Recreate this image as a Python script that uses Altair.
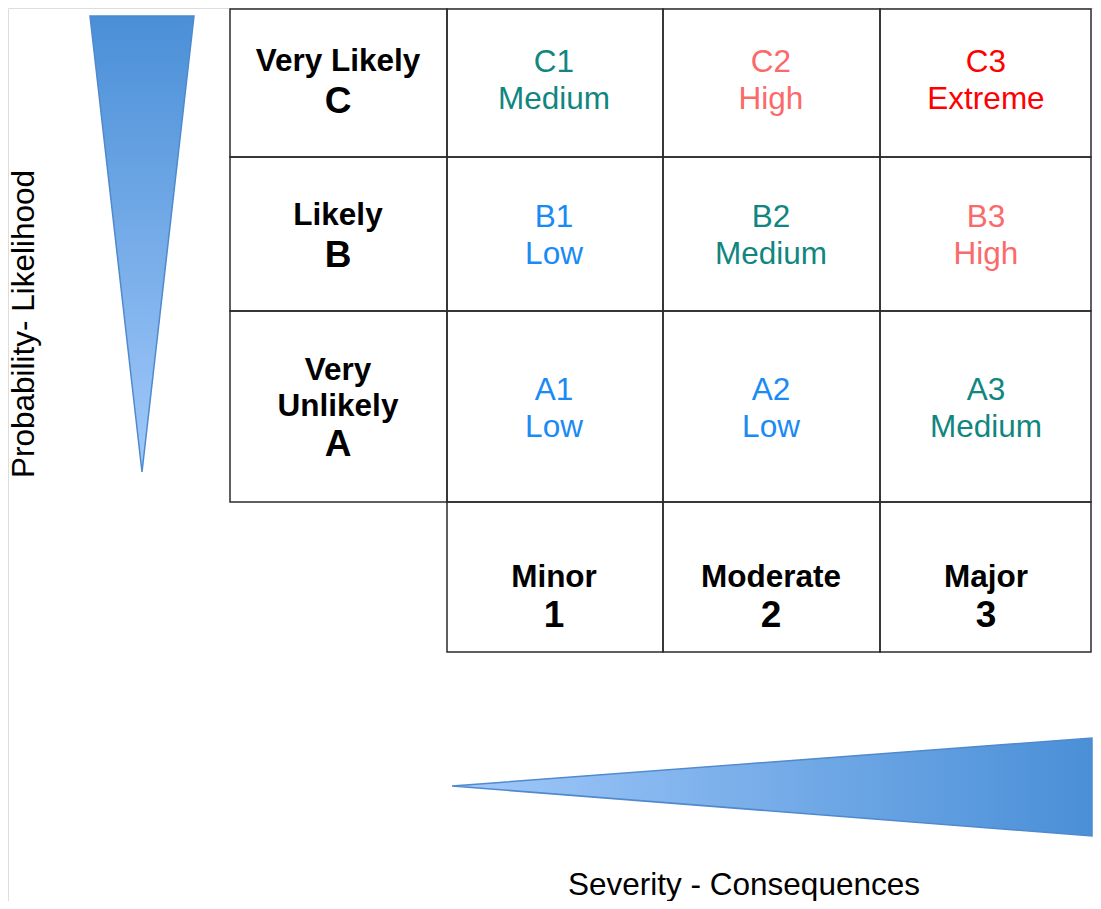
import altair as alt
import pandas as pd

# ---------------- data ----------------
row_keys = ["C", "B", "A"]
row_words = [["Very Likely"], ["Likely"], ["Very", "Unlikely"]]
col_keys = ["1", "2", "3"]
col_words = ["Minor", "Moderate", "Major"]
codes = [["C1", "C2", "C3"], ["B1", "B2", "B3"], ["A1", "A2", "A3"]]
levels = [["Medium", "High", "Extreme"], ["Low", "Medium", "High"], ["Low", "Low", "Medium"]]
level_names = ["Low", "Medium", "High", "Extreme"]
level_colors = ["#1a8af5", "#108680", "#fb6a6a", "#ff0000"]
y_title = "Probability- Likelihood"
x_title = "Severity - Consequences"

# ---------------- layout (pixel units of the picture) ----------------
COL_EDGES = [230, 447, 663, 880, 1091]
ROW_EDGES = [9, 157, 311, 502, 652]
COL_CENTERS = [338, 554, 771, 986]
CELL_LINE_Y = [[61, 98], [216, 253], [389, 426]]
LABEL_LINE_Y = [[60, 100], [214, 254], [369, 405, 443]]
BOTTOM_LINE_Y = [576, 614]
WORD_FS = 31.5
KEY_FS = 37
FONT = "Liberation Sans"
TEXT_DY = 2

color_of = dict(zip(level_names, level_colors))

# grid cells
cells = []
for r in range(3):
    for c in range(4):
        cells.append(dict(x=COL_EDGES[c], x2=COL_EDGES[c + 1], y=ROW_EDGES[r], y2=ROW_EDGES[r + 1]))
for c in range(1, 4):
    cells.append(dict(x=COL_EDGES[c], x2=COL_EDGES[c + 1], y=ROW_EDGES[3], y2=ROW_EDGES[4]))
cells = pd.DataFrame(cells)

# coloured cell text
ctext = []
for r in range(3):
    for c in range(3):
        col = color_of[levels[r][c]]
        for line, t in zip(CELL_LINE_Y[r], [codes[r][c], levels[r][c]]):
            ctext.append(dict(x=COL_CENTERS[c + 1], y=line, t=t, color=col))
ctext = pd.DataFrame(ctext)

# bold labels
btext = []
for r in range(3):
    lines = row_words[r] + [row_keys[r]]
    for i, (ly, t) in enumerate(zip(LABEL_LINE_Y[r], lines)):
        btext.append(dict(x=COL_CENTERS[0], y=ly, t=t, fs=KEY_FS if i == len(lines) - 1 else WORD_FS))
for c in range(3):
    for i, (ly, t) in enumerate(zip(BOTTOM_LINE_Y, [col_words[c], col_keys[c]])):
        btext.append(dict(x=COL_CENTERS[c + 1], y=ly, t=t, fs=KEY_FS if i == 1 else WORD_FS))
btext = pd.DataFrame(btext)

vtri = pd.DataFrame(dict(y=[16, 472], x=[90, 142], x2=[194, 142]))
htri = pd.DataFrame(dict(x=[452, 1092], y=[786, 738], y2=[786, 836]))

XS = alt.Scale(domain=[8, 1093], nice=False, zero=False)
YS = alt.Scale(domain=[8, 901], nice=False, zero=False, reverse=True)

def X(f):
    return alt.X(f, type="quantitative", scale=XS, axis=None)

def Y(f):
    return alt.Y(f, type="quantitative", scale=YS, axis=None)

grid = alt.Chart(cells).mark_rect(fill="transparent", stroke="#2b2b2b", strokeWidth=1.5).encode(
    x=X("x"), x2="x2", y=Y("y"), y2="y2"
)

vgrad = alt.Gradient(
    gradient="linear",
    stops=[alt.GradientStop(color="#4a8fd7", offset=0), alt.GradientStop(color="#a2c9fa", offset=1)],
    x1=0, x2=0, y1=0, y2=1,
)
hgrad = alt.Gradient(
    gradient="linear",
    stops=[alt.GradientStop(color="#a2c9fa", offset=0), alt.GradientStop(color="#4a8fd7", offset=1)],
    x1=0, x2=1, y1=0, y2=0,
)

vt = alt.Chart(vtri).mark_area(orient="horizontal", fill=vgrad, stroke="#4f8ace", strokeWidth=1.5).encode(
    y=Y("y"), x=X("x"), x2="x2"
)
ht = alt.Chart(htri).mark_area(orient="vertical", fill=hgrad, stroke="#4f8ace", strokeWidth=1.5).encode(
    x=X("x"), y=Y("y"), y2="y2"
)

ctxt = alt.Chart(ctext).mark_text(font=FONT, fontSize=WORD_FS, align="center", baseline="middle", dy=TEXT_DY).encode(
    x=X("x"), y=Y("y"), text="t:N", color=alt.Color("color:N", scale=None)
)
btxt = alt.Chart(btext).mark_text(font=FONT, fontWeight="bold", align="center", baseline="middle", dy=TEXT_DY, color="black").encode(
    x=X("x"), y=Y("y"), text="t:N", size=alt.Size("fs:Q", scale=None)
)

titles = pd.DataFrame(dict(x=[34, 744], y=[324, 895], t=[y_title, x_title]))
ytt = alt.Chart(titles.iloc[[0]]).mark_text(font=FONT, fontSize=WORD_FS, angle=270, align="center", baseline="alphabetic", color="black").encode(
    x=X("x"), y=Y("y"), text="t:N"
)
xtt = alt.Chart(titles.iloc[[1]]).mark_text(font=FONT, fontSize=WORD_FS, align="center", baseline="alphabetic", color="black").encode(
    x=X("x"), y=Y("y"), text="t:N"
)

chart = alt.layer(vt, ht, grid, ctxt, btxt, ytt, xtt).properties(
    width=1085, height=893, padding=0, autosize=alt.AutoSizeParams(type="none")
).configure_view(strokeWidth=0).configure(background="white")

chart.save("out.html", embed_options={"renderer": "svg", "actions": False})
